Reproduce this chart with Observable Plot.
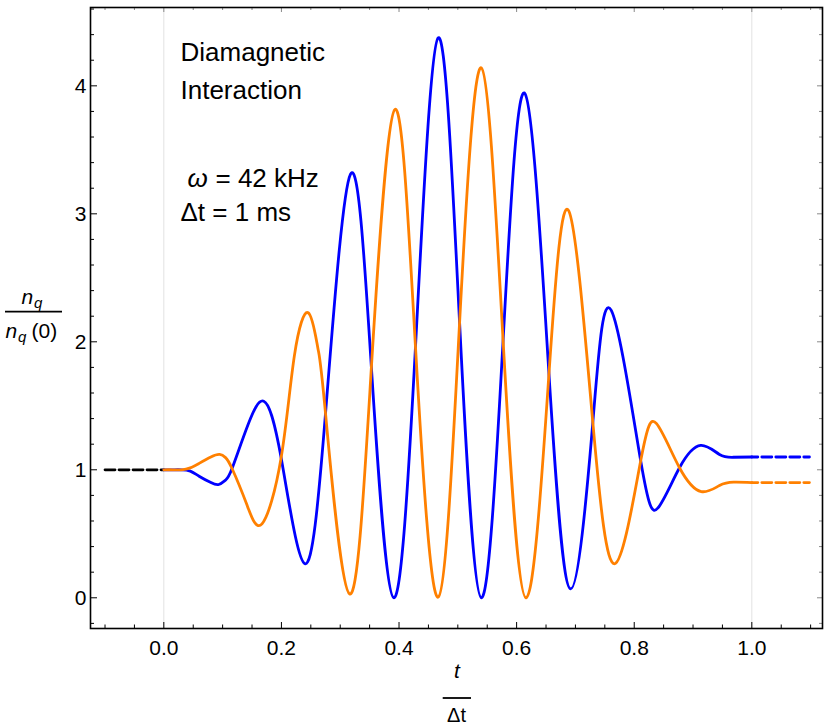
<!DOCTYPE html>
<html>
<head>
<meta charset="utf-8">
<script src="https://cdn.jsdelivr.net/npm/d3@7"></script>
<script src="https://cdn.jsdelivr.net/npm/@observablehq/plot@0.6"></script>
<style>
  html, body { margin: 0; padding: 0; background: #fff; }
  #chart svg { display: block; }
</style>
</head>
<body>
<div id="chart"></div>
<script>
// ---- data ----
const blueT = [0, 0.015, 0.03, 0.045, 0.06, 0.08, 0.0935, 0.105, 0.116, 0.143, 0.170, 0.1995, 0.240, 0.275, 0.3175, 0.353, 0.391, 0.428, 0.4667, 0.503, 0.540, 0.577, 0.614, 0.655, 0.692, 0.7296, 0.761, 0.811, 0.840, 0.877, 0.913, 0.945, 0.969, 1.0];
const blueN = [1, 1, 1, 0.99, 0.95, 0.90, 0.885, 0.92, 1.01, 1.35, 1.536, 1.094, 0.266, 1.44, 3.31, 1.80, 0.0, 1.96, 4.375, 2.15, 0.0, 2.01, 3.94, 1.75, 0.07, 1.37, 2.245, 1.07, 0.70, 1.016, 1.19, 1.12, 1.098, 1.10];
const orangeT = [0, 0.015, 0.03, 0.045, 0.06, 0.08, 0.095, 0.105, 0.116, 0.141, 0.167, 0.1995, 0.222, 0.2456, 0.262, 0.275, 0.316, 0.353, 0.393, 0.428, 0.4667, 0.503, 0.540, 0.577, 0.616, 0.655, 0.689, 0.7296, 0.767, 0.811, 0.838, 0.877, 0.914, 0.945, 0.969, 1.0];
const orangeN = [1, 1, 1, 1.015, 1.05, 1.10, 1.12, 1.095, 1.01, 0.73, 0.578, 1.094, 1.89, 2.227, 1.95, 1.44, 0.03, 1.80, 3.815, 1.96, 0.005, 2.15, 4.14, 2.01, 0.0, 1.75, 3.02, 1.37, 0.266, 1.07, 1.36, 1.016, 0.83, 0.877, 0.903, 0.90];
const leadT = [-0.1, 0];      const leadN = [1, 1];
const blueTailT = [1.0, 1.098];   const blueTailN = [1.10, 1.10];
const orangeTailT = [1.0, 1.098]; const orangeTailN = [0.90, 0.90];

const xMajor = [0, 0.2, 0.4, 0.6, 0.8, 1.0];
const xMinor = [-0.1, -0.05, 0.05, 0.1, 0.15, 0.25, 0.3, 0.35, 0.45, 0.5, 0.55, 0.65, 0.7, 0.75, 0.85, 0.9, 0.95, 1.05, 1.1];
const yMajor = [0, 1, 2, 3, 4];
const yMinor = [-0.2, 0.2, 0.4, 0.6, 0.8, 1.2, 1.4, 1.6, 1.8, 2.2, 2.4, 2.6, 2.8, 3.2, 3.4, 3.6, 3.8, 4.2, 4.4, 4.6];
const gridX = [0, 1];

const BLUE = "#0000ff", ORANGE = "#ff8000";
const FONT = "'Liberation Sans', Arial, sans-serif";

const toRows = (T, N) => T.map((t, i) => ({t, n: N[i]}));
const blue = toRows(blueT, blueN);
const orange = toRows(orangeT, orangeN);
const lead = toRows(leadT, leadN);
const blueTail = toRows(blueTailT, blueTailN);
const orangeTail = toRows(orangeTailT, orangeTailN);

const W = 830, H = 727, ML = 90, MR = 8, MT = 7, MB = 99;
const innerW = W - ML - MR, innerH = H - MT - MB;

// text placed at absolute page position (X = left/center, B = baseline)
function txt(s, X, B, o = {}) {
  return Plot.text([s], {
    text: d => d, frameAnchor: "top-left", dx: X - ML, dy: B - MT,
    textAnchor: "start", lineAnchor: "bottom", fontSize: 26, fill: "black", ...o
  });
}

const LW = 2.8;
const chart = Plot.plot({
  width: W, height: H,
  marginLeft: ML, marginRight: MR, marginTop: MT, marginBottom: MB,
  style: {fontFamily: FONT, background: "white", color: "black"},
  x: {domain: [-0.1247, 1.1202]},
  y: {domain: [-0.24, 4.612]},
  marks: [
    Plot.ruleX(gridX, {stroke: "#e2e2e2", strokeWidth: 1}),
    // inward ticks
    Plot.ruleX(xMajor, {stroke: "black", strokeWidth: 1, insetTop: innerH - 6}),
    Plot.ruleX(xMinor, {stroke: "black", strokeWidth: 1, insetTop: innerH - 3.5}),
    Plot.ruleX(xMajor, {stroke: "#8a8a8a", strokeWidth: 1, insetBottom: innerH - 5}),
    Plot.ruleX(xMinor, {stroke: "#8a8a8a", strokeWidth: 1, insetBottom: innerH - 3}),
    Plot.ruleY(yMajor, {stroke: "black", strokeWidth: 1, insetRight: innerW - 7}),
    Plot.ruleY(yMinor, {stroke: "black", strokeWidth: 1, insetRight: innerW - 4}),
    Plot.ruleY(yMajor, {stroke: "#8a8a8a", strokeWidth: 1, insetLeft: innerW - 5}),
    Plot.ruleY(yMinor, {stroke: "#8a8a8a", strokeWidth: 1, insetLeft: innerW - 3}),
    Plot.axisX({ticks: xMajor, tickSize: 0, tickPadding: 12, tickFormat: d3.format(".1f"), fontSize: 21, label: null}),
    Plot.axisY({ticks: yMajor, tickSize: 0, tickPadding: 4, tickFormat: d3.format("d"), fontSize: 21, label: null}),
    // curves
    Plot.line(lead, {x: "t", y: "n", stroke: "black", strokeWidth: LW, strokeDasharray: "10,4"}),
    Plot.line(blueTail, {x: "t", y: "n", stroke: BLUE, strokeWidth: LW, strokeDasharray: "10,4", strokeDashoffset: 4}),
    Plot.line(orangeTail, {x: "t", y: "n", stroke: ORANGE, strokeWidth: LW, strokeDasharray: "10,4", strokeDashoffset: 4}),
    Plot.line(blue, {x: "t", y: "n", stroke: BLUE, strokeWidth: LW, curve: "natural"}),
    Plot.line(orange, {x: "t", y: "n", stroke: ORANGE, strokeWidth: LW, curve: "natural"}),
    Plot.frame({stroke: "black", strokeWidth: 1.6}),
    // annotations
    txt("Diamagnetic", 180, 60),
    txt("Interaction", 180, 98),
    txt("ω", 187, 186, {fontStyle: "italic"}),
    txt("= 42 kHz", 215, 186),
    txt("Δt = 1 ms", 180, 220),
    // y-axis label  n_q / n_q(0)
    txt("n", 21, 303, {fontSize: 21, fontStyle: "italic"}),
    txt("q", 33.5, 307.5, {fontSize: 15, fontStyle: "italic"}),
    txt("n", 5, 337, {fontSize: 21, fontStyle: "italic"}),
    txt("q", 17.5, 341.5, {fontSize: 15, fontStyle: "italic"}),
    txt("(0)", 31, 337, {fontSize: 21}),
    // x-axis label  t / Δt
    txt("t", 456.5, 677, {fontSize: 21, fontStyle: "italic", textAnchor: "middle"}),
    txt("Δt", 456, 721, {fontSize: 20, textAnchor: "middle"})
  ]
});

// fraction bars of the axis labels
const svg = d3.select(chart);
svg.append("line").attr("x1", 5).attr("x2", 62).attr("y1", 311.7).attr("y2", 311.7)
  .attr("stroke", "black").attr("stroke-width", 1.8);
svg.append("line").attr("x1", 442.7).attr("x2", 471).attr("y1", 698).attr("y2", 698)
  .attr("stroke", "black").attr("stroke-width", 1.8);

document.getElementById("chart").appendChild(chart);
</script>
</body>
</html>
